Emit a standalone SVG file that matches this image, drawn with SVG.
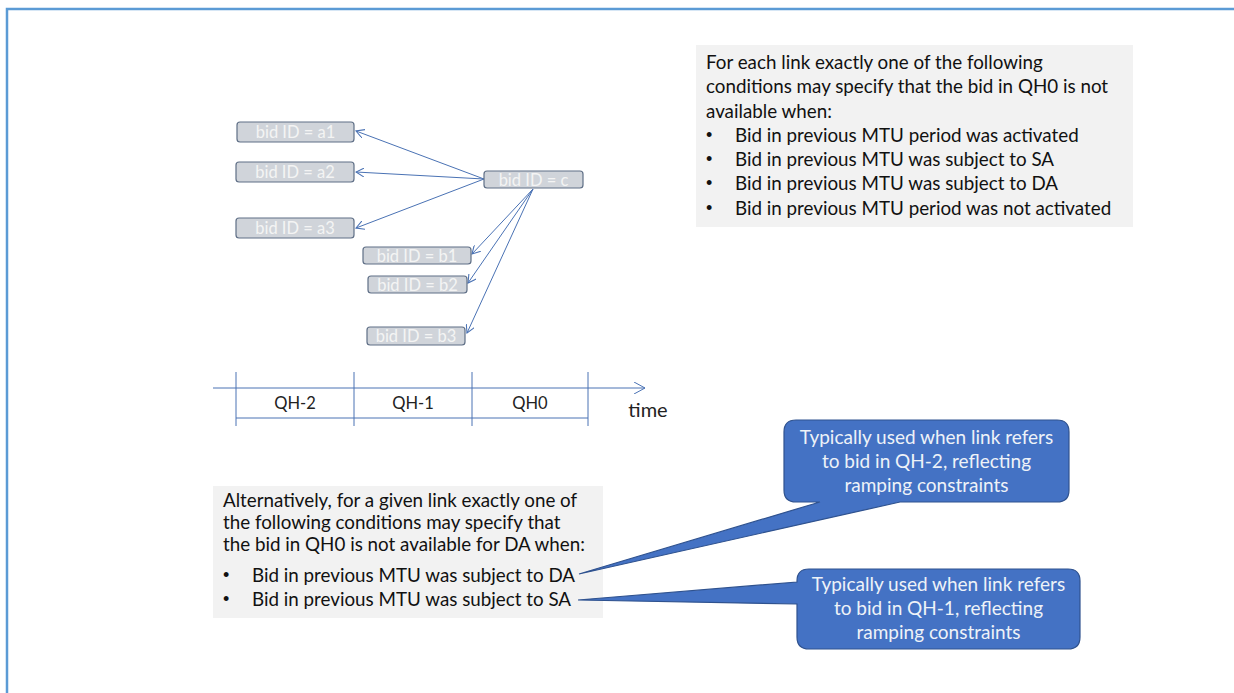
<svg xmlns="http://www.w3.org/2000/svg" width="1234" height="693" viewBox="0 0 1234 693">
<style>
.frame{fill:none;stroke:#5b9bd5;stroke-width:2.5}
.node rect{fill:#d0d4da;stroke:#5f6f86;stroke-width:1.2}
.node text{font-family:Lato,"Liberation Sans",sans-serif;font-size:16.5px;fill:#f4f4f4;text-anchor:middle}
.conn{stroke:#4a72b4;stroke-width:1;fill:none;marker-end:url(#arr)}
.axis{stroke:#4a72b4;stroke-width:1;fill:none}
.lbl{font-family:Lato,"Liberation Sans",sans-serif;font-size:16.5px;fill:#222;text-anchor:middle}
.box{fill:#f2f2f2}
.bt{font-family:Lato,"Liberation Sans",sans-serif;font-size:18.8px;fill:#111}
.bu{font-family:"Liberation Sans",sans-serif;font-size:18px;fill:#111}
.call{fill:#4472c4;stroke:#2f528f;stroke-width:1.2}
.ct{font-family:Lato,"Liberation Sans",sans-serif;font-size:19px;fill:#eef2f8;text-anchor:middle}
</style>
<defs>
<marker id="arr" viewBox="0 0 10 10" refX="9" refY="5" markerWidth="9" markerHeight="9" markerUnits="userSpaceOnUse" orient="auto">
<path d="M0,0 L9,5 L0,10" fill="none" stroke="#4a72b4" stroke-width="1.2"/>
</marker>
<marker id="axarr" viewBox="0 0 12 12" refX="11" refY="6" markerWidth="12" markerHeight="12" markerUnits="userSpaceOnUse" orient="auto">
<path d="M0,0 L11,6 L0,12" fill="none" stroke="#4a72b4" stroke-width="1"/>
</marker>
</defs>
<rect x="7" y="9" width="1240" height="700" class="frame"/>

<g id="connectors">
<line class="conn" x1="484" y1="179" x2="356" y2="131"/>
<line class="conn" x1="484" y1="179" x2="356" y2="172"/>
<line class="conn" x1="484" y1="179" x2="356" y2="228"/>
<line class="conn" x1="533" y1="189" x2="472" y2="254"/>
<line class="conn" x1="533" y1="189" x2="468" y2="283"/>
<line class="conn" x1="533" y1="189" x2="467" y2="333"/>
</g>

<g id="node-a1" class="node"><rect x="237" y="122" width="117" height="20" rx="3"/><text x="295.5" y="138">bid ID = a1</text></g>
<g id="node-a2" class="node"><rect x="236" y="162" width="118" height="20" rx="3"/><text x="295" y="178">bid ID = a2</text></g>
<g id="node-a3" class="node"><rect x="236" y="218" width="118" height="20" rx="3"/><text x="295" y="234">bid ID = a3</text></g>
<g id="node-c" class="node"><rect x="484" y="171" width="99" height="17" rx="3"/><text x="533.5" y="185.5">bid ID = c</text></g>
<g id="node-b1" class="node"><rect x="363" y="247" width="108" height="17" rx="3"/><text x="417" y="261.5">bid ID =  b1</text></g>
<g id="node-b2" class="node"><rect x="368" y="276" width="99" height="17" rx="3"/><text x="417.5" y="290.5">bid ID = b2</text></g>
<g id="node-b3" class="node"><rect x="367" y="327" width="98" height="18" rx="3"/><text x="416" y="342">bid ID = b3</text></g>

<g id="timeline">
<line class="axis" x1="213" y1="388" x2="645" y2="388" marker-end="url(#axarr)"/>
<line class="axis" x1="236" y1="418" x2="588" y2="418"/>
<line class="axis" x1="236" y1="372" x2="236" y2="426"/>
<line class="axis" x1="354" y1="372" x2="354" y2="426"/>
<line class="axis" x1="472" y1="372" x2="472" y2="426"/>
<line class="axis" x1="588" y1="372" x2="588" y2="426"/>
<text class="lbl" x="295" y="409">QH-2</text>
<text class="lbl" x="413" y="409">QH-1</text>
<text class="lbl" x="530" y="409">QH0</text>
<text class="lbl" x="648" y="417" style="font-size:20px">time</text>
</g>

<g id="box-conditions">
<rect class="box" x="696" y="45" width="437" height="182"/>
<text class="bt" x="706" y="69">For each link exactly one of the following</text>
<text class="bt" x="706" y="93">conditions may specify that the bid in QH0 is not</text>
<text class="bt" x="706" y="118">available when:</text>
<text class="bu" x="706" y="141">•</text><text class="bt" x="735" y="142">Bid in previous MTU period was activated</text>
<text class="bu" x="706" y="165">•</text><text class="bt" x="735" y="166">Bid in previous MTU was subject to SA</text>
<text class="bu" x="706" y="189">•</text><text class="bt" x="735" y="190">Bid in previous MTU was subject to DA</text>
<text class="bu" x="706" y="214">•</text><text class="bt" x="735" y="215">Bid in previous MTU period was not activated</text>
</g>

<g id="box-alternative">
<rect class="box" x="213" y="486" width="390" height="132"/>
<text class="bt" x="223" y="507">Alternatively, for a given link exactly one of</text>
<text class="bt" x="223" y="529">the following conditions may specify that</text>
<text class="bt" x="223" y="551">the bid in QH0 is not available for DA when:</text>
<text class="bu" x="223" y="581">•</text><text class="bt" x="252" y="582">Bid in previous MTU was subject to DA</text>
<text class="bu" x="223" y="605">•</text><text class="bt" x="252" y="606">Bid in previous MTU was subject to SA</text>
</g>

<g id="callout-qh2">
<path class="call" d="M796,420 H1057 Q1069,420 1069,432 V490 Q1069,502 1057,502 H900 L579,574 L820,502 H796 Q784,502 784,490 V432 Q784,420 796,420 Z"/>
<text class="ct" x="926.5" y="444">Typically used when link refers</text>
<text class="ct" x="926.5" y="468">to bid in QH-2, reflecting</text>
<text class="ct" x="926.5" y="492">ramping constraints</text>
</g>

<g id="callout-qh1">
<path class="call" d="M809,569 H1068 Q1080,569 1080,581 V637 Q1080,649 1068,649 H809 Q797,649 797,637 V604 L578,600 L797,582 V581 Q797,569 809,569 Z"/>
<text class="ct" x="938.5" y="591">Typically used when link refers</text>
<text class="ct" x="938.5" y="615">to bid in QH-1, reflecting</text>
<text class="ct" x="938.5" y="639">ramping constraints</text>
</g>
</svg>
